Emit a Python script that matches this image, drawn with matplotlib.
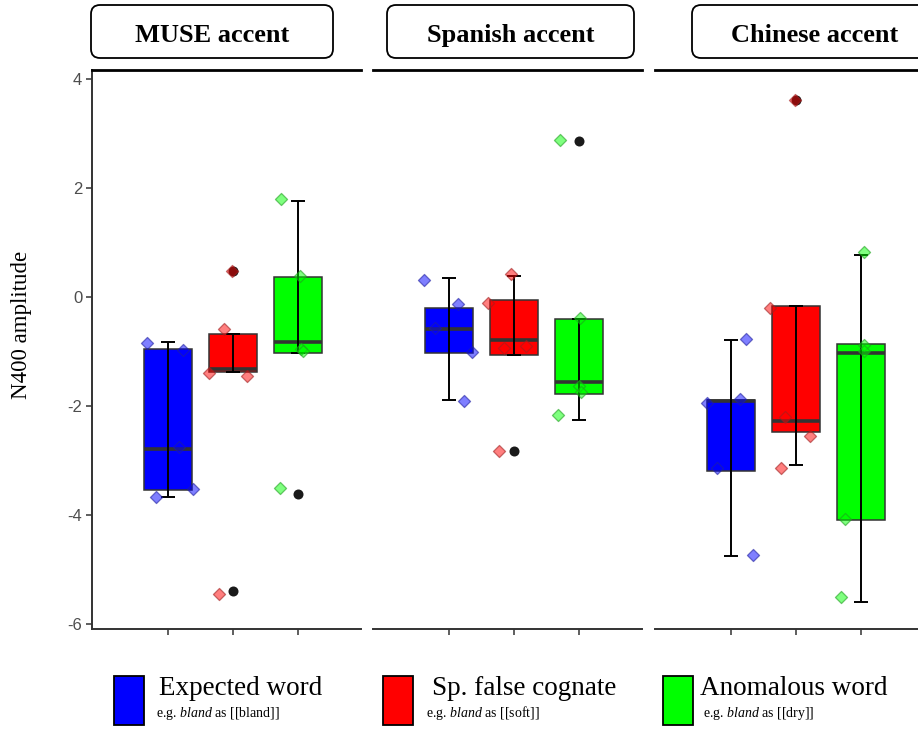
import numpy as np
import matplotlib
matplotlib.use("Agg")
import matplotlib.pyplot as plt
from matplotlib.patches import FancyBboxPatch, Rectangle
from matplotlib.transforms import IdentityTransform

plt.rcParams['mathtext.fontset'] = 'custom'
plt.rcParams['mathtext.rm'] = 'Liberation Serif'
plt.rcParams['mathtext.it'] = 'Liberation Serif:italic'
plt.rcParams['axes.unicode_minus'] = False

# --- data -----------------------------------------------------------------
accents = ["MUSE accent", "Spanish accent", "Chinese accent"]
conditions = ["Expected word", "Sp. false cognate", "Anomalous word"]
examples = ["[[bland]]", "[[soft]]", "[[dry]]"]
cond_colors = ["#0000ff", "#ff0000", "#00ff00"]
edge_colors = ["#2020a0", "#a02020", "#20a020"]

# box statistics per accent, per condition: (q1, median, q3, whisker low, whisker high)
box_muse = [(-3.55, -2.79, -0.96, -3.68, -0.83),
            (-1.38, -1.33, -0.68, -1.38, -0.68),
            (-1.03, -0.83, 0.37, -1.03, 1.76)]
box_spanish = [(-1.03, -0.59, -0.20, -1.89, 0.35),
               (-1.07, -0.79, -0.06, -1.07, 0.39),
               (-1.78, -1.56, -0.40, -2.26, -0.40)]
box_chinese = [(-3.20, -1.91, -1.89, -4.76, -0.79),
               (-2.48, -2.28, -0.17, -3.09, -0.17),
               (-4.10, -1.03, -0.86, -5.61, 0.77)]

outliers_muse = [[], [0.47, -5.40], [-3.62]]
outliers_spanish = [[], [-2.83], [2.87]]
outliers_chinese = [[], [3.62], []]

# individual participants (N400 amplitude) and their horizontal jitter
pts_muse = [[-0.85, -0.97, -2.76, -3.53, -3.67],
            [-0.59, -1.40, -1.45, 0.48, -5.46],
            [1.80, 0.39, -0.96, -3.51, -1.00]]
jit_muse = [[-0.32, 0.23, 0.17, 0.38, -0.18],
            [-0.14, -0.37, 0.22, -0.01, -0.22],
            [-0.26, 0.03, 0.05, -0.28, 0.08]]
pts_spanish = [[0.31, -0.13, -0.57, -1.01, -1.91],
               [0.42, -0.11, -0.94, -0.90, -2.83],
               [-0.39, -1.63, -1.74, -2.17, 2.89]]
jit_spanish = [[-0.38, 0.14, -0.22, 0.35, 0.23],
               [-0.05, -0.40, -0.15, 0.18, -0.23],
               [0.02, 0.00, 0.03, -0.32, -0.29]]
pts_chinese = [[-0.77, -1.95, -1.87, -3.14, -4.74],
               [-0.20, -2.21, -2.56, -3.14, 3.62],
               [0.83, -0.88, -0.99, -4.08, -5.51]]
jit_chinese = [[0.23, -0.37, 0.14, -0.22, 0.34],
               [-0.40, -0.17, 0.22, -0.23, -0.02],
               [0.05, 0.05, 0.05, -0.25, -0.31]]

boxes = [box_muse, box_spanish, box_chinese]
outliers = [outliers_muse, outliers_spanish, outliers_chinese]
points = [pts_muse, pts_spanish, pts_chinese]
jitters = [jit_muse, jit_spanish, jit_chinese]

yticks = [-6, -4, -2, 0, 2, 4]

# --- figure ---------------------------------------------------------------
W, H = 918, 729
fig = plt.figure(figsize=(W / 100, H / 100), dpi=100)

panel_left = [92, 373, 655]
panel_w = 269
ax_top, ax_bot = 70, 629

strip_boxes = [(91, 333), (387, 634), (692, 940)]
strip_text_x = [212, 511, 815]

dark = "#333333"
for p in range(3):
    ax = fig.add_axes([panel_left[p] / W, 1 - ax_bot / H, panel_w / W, (ax_bot - ax_top) / H])
    ax.set_xlim(-1.17, 2.97)
    ax.set_ylim(-6.10, 4.17)
    pos = np.arange(3)

    stats = []
    for c in range(3):
        q1, med, q3, lo, hi = boxes[p][c]
        stats.append(dict(q1=q1, med=med, q3=q3, whislo=lo, whishi=hi, fliers=[]))
    bp = ax.bxp(stats, positions=pos, widths=0.75, patch_artist=True,
                showcaps=False, showfliers=False,
                whiskerprops=dict(visible=False),
                boxprops=dict(edgecolor=dark, linewidth=1.1),
                medianprops=dict(color=dark, linewidth=2.6, solid_capstyle='butt'))
    for patch, col in zip(bp['boxes'], cond_colors):
        patch.set_facecolor(col)

    # whisker range drawn through the box with end caps
    for c in range(3):
        q1, med, q3, lo, hi = boxes[p][c]
        ax.errorbar(pos[c], med, yerr=[[med - lo], [hi - med]], fmt='none',
                    ecolor='black', elinewidth=1.4, capsize=4.8, capthick=1.4, zorder=3)

    for c in range(3):
        if outliers[p][c]:
            ax.scatter([pos[c]] * len(outliers[p][c]), outliers[p][c], s=52,
                       color='#1a1a1a', zorder=4, linewidths=0)

    for c in range(3):
        xs = pos[c] + np.array(jitters[p][c])
        ax.scatter(xs, points[p][c], marker='D', s=38,
                   facecolor=matplotlib.colors.to_rgba(cond_colors[c], 0.5),
                   edgecolor=matplotlib.colors.to_rgba(edge_colors[c], 0.6),
                   linewidths=0.9, zorder=5)

    ax.spines['right'].set_visible(False)
    ax.spines['top'].set_linewidth(2.0)
    ax.spines['top'].set_color('black')
    ax.spines['bottom'].set_linewidth(1.4)
    ax.spines['bottom'].set_color(dark)
    ax.set_xticks(pos)
    ax.set_xticklabels([])
    ax.tick_params(axis='x', length=4, width=1.1, color=dark)
    if p == 0:
        ax.spines['left'].set_linewidth(1.4)
        ax.spines['left'].set_color(dark)
        ax.set_yticks(yticks)
        ax.tick_params(axis='y', length=4, width=1.1, color=dark, labelsize=12,
                       labelcolor='#4d4d4d', pad=3)
        for lab in ax.get_yticklabels():
            lab.set_family('Liberation Sans')
    else:
        ax.spines['left'].set_visible(False)
        ax.set_yticks([])
    ax.patch.set_alpha(0)

    # facet strip
    x0, x1 = strip_boxes[p]
    fig.add_artist(FancyBboxPatch((x0, H - 58), x1 - x0, 53,
                                  boxstyle='round,pad=0,rounding_size=9',
                                  transform=IdentityTransform(), facecolor='white',
                                  edgecolor='black', linewidth=1.3))
    fig.text(strip_text_x[p] / W, 1 - 42 / H, accents[p], ha='center', va='baseline',
             family='Liberation Serif', weight='bold', fontsize=19)

fig.text(22 / W, 1 - 325 / H, "N400 amplitude", rotation=90, ha='center', va='center',
         family='Liberation Serif', fontsize=16.5)

# legend along the bottom
leg_patch_x = [114, 383, 663]
leg_text_x = [159, 432, 700]
leg_sub_x = [156, 426, 703]
for c in range(3):
    fig.add_artist(Rectangle((leg_patch_x[c], H - 725), 30, 49, transform=IdentityTransform(),
                             facecolor=cond_colors[c], edgecolor='black', linewidth=1.3))
    fig.text(leg_text_x[c] / W, 1 - 695 / H, conditions[c], ha='left', va='baseline',
             family='Liberation Serif', fontsize=19.5)
    fig.text(leg_sub_x[c] / W, 1 - 717 / H, "e.g. $bland$ as " + examples[c], ha='left',
             va='baseline', family='Liberation Serif', fontsize=10)

fig.savefig("out.png", dpi=100)
